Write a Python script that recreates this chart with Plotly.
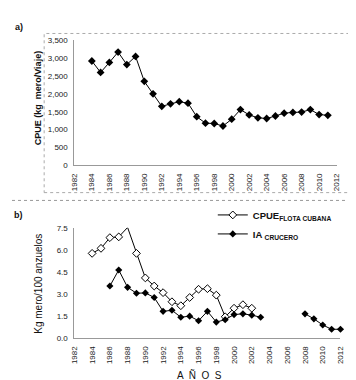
import plotly.graph_objects as go

years_a = list(range(1984, 2012))
cpue_a = [2920, 2600, 2880, 3170, 2820, 3050, 2350, 2000, 1650, 1720, 1780, 1740,
          1360, 1180, 1170, 1100, 1290, 1560, 1410, 1330, 1310, 1380, 1460, 1480,
          1490, 1560, 1420, 1400]

years_flota = list(range(1984, 2003))
cpue_flota = [5.76, 6.10, 6.83, 6.88, 7.52, 5.76, 4.09, 3.54, 3.09, 2.47, 2.20, 2.76,
              3.32, 3.36, 2.92, 1.45, 2.03, 2.27, 2.03]

years_ia = [1986, 1987, 1988, 1989, 1990, 1991, 1992, 1993, 1994, 1995, 1996, 1997,
            1998, 1999, 2000, 2001, 2002, 2003, 2004, 2005, 2006, 2007,
            2008, 2009, 2010, 2011, 2012]
ia_crucero = [3.54, 4.63, 3.45, 3.05, 3.07, 2.76, 1.82, 1.89, 1.42, 1.49, 1.18, 1.82,
              1.09, 1.25, 1.60, 1.65, 1.56, 1.42, None, None, None, None,
              1.65, 1.31, 0.89, 0.60, 0.60]

xticks = list(range(1982, 2013, 2))
W, H = 356, 380

def px(x):
    return x / W

def py(y):
    return 1 - y / H

FONT = "Liberation Sans, Arial, sans-serif"

fig = go.Figure()
fig.add_trace(go.Scatter(x=years_a, y=cpue_a, mode="lines+markers",
                         line=dict(color="black", width=1),
                         marker=dict(symbol="diamond", size=6, color="black"),
                         showlegend=False, xaxis="x", yaxis="y", cliponaxis=False))
fig.add_trace(go.Scatter(x=years_flota, y=cpue_flota, mode="lines+markers",
                         name="CPUE<sub>FLOTA CUBANA</sub>",
                         line=dict(color="black", width=1),
                         marker=dict(symbol="diamond", size=6, color="white",
                                     line=dict(color="black", width=1)),
                         xaxis="x2", yaxis="y2", cliponaxis=False))
fig.add_trace(go.Scatter(x=years_ia, y=ia_crucero, mode="lines+markers",
                         name="IA <sub>CRUCERO</sub>", connectgaps=False,
                         line=dict(color="black", width=1),
                         marker=dict(symbol="diamond", size=5.5, color="black"),
                         xaxis="x2", yaxis="y2", cliponaxis=False))

axis_common = dict(showgrid=False, zeroline=False, showline=True, linecolor="#999999",
                   linewidth=1, ticks="", tickfont=dict(family=FONT, size=8, color="#222"),
                   ticklabelstandoff=4)

fig.update_layout(
    width=W, height=H, margin=dict(l=0, r=0, t=0, b=0),
    paper_bgcolor="white", plot_bgcolor="white",
    font=dict(family=FONT, color="#111"),
    xaxis=dict(domain=[px(64), px(333)], range=[1982, 2012], tickvals=xticks,
               tickangle=-90, anchor="y", **axis_common),
    yaxis=dict(domain=[py(157), py(29)], range=[0, 3500], tickvals=list(range(0, 3501, 500)),
               tickformat=",d", anchor="x", **axis_common),
    xaxis2=dict(domain=[px(64), px(337)], range=[1982, 2012], tickvals=xticks,
                tickangle=-90, anchor="y2", **axis_common),
    yaxis2=dict(domain=[py(334), py(221)], range=[0, 7.5], tickvals=[0, 1.5, 3, 4.5, 6, 7.5],
                tickformat=".1f", anchor="x2", **axis_common),
    legend=dict(x=px(206), y=py(193), xanchor="left", yanchor="top",
                bgcolor="rgba(0,0,0,0)", tracegroupgap=0,
                font=dict(family=FONT, size=9.5, color="#111", weight="bold")),
    showlegend=True,
)

fig.add_shape(type="rect", xref="paper", yref="paper",
              x0=px(33), x1=px(348), y0=py(185), y1=py(22),
              line=dict(color="#aaaaaa", width=1, dash="dot"))
fig.add_shape(type="line", xref="paper", yref="paper",
              x0=0, x1=px(347), y0=py(193), y1=py(193),
              line=dict(color="#999999", width=1, dash="dot"))

ann = [
    dict(text="<b>a)</b>", x=px(7), y=py(15), size=9, angle=0),
    dict(text="<b>b)</b>", x=px(7), y=py(208), size=9, angle=0),
    dict(text="<b>CPUE (kg  mero/Viaje)</b>", x=px(27), y=py(88), size=9, angle=-90),
    dict(text="Kg mero/100 anzuelos", x=px(27), y=py(278), size=10, angle=-90),
    dict(text="A  Ñ  O  S", x=px(192), y=py(372), size=10, angle=0),
]
for a in ann:
    fig.add_annotation(text=a["text"], x=a["x"], y=a["y"], xref="paper", yref="paper",
                       showarrow=False, textangle=a["angle"], xanchor="center", yanchor="middle",
                       font=dict(family=FONT, size=a["size"], color="#111"))

fig.write_html("out.html")
